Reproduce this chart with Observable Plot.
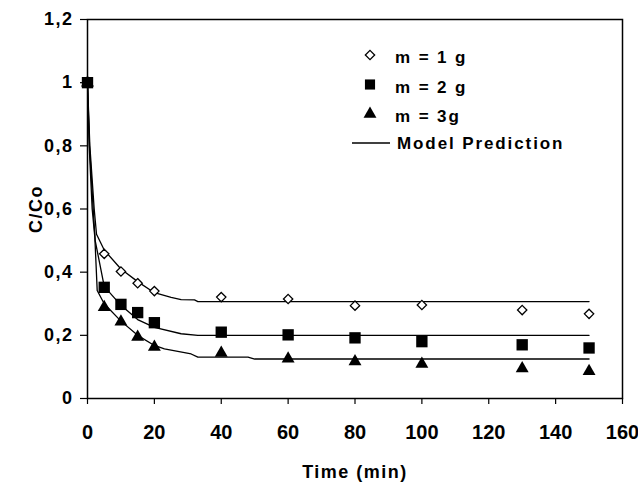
<!DOCTYPE html>
<html>
<head>
<meta charset="utf-8">
<script src="https://cdn.jsdelivr.net/npm/d3@7"></script>
<script src="https://cdn.jsdelivr.net/npm/@observablehq/plot@0.6"></script>
<style>
  html, body { margin: 0; padding: 0; background: #fff; }
  #wrap { position: relative; width: 638px; height: 484px; font-family: "Liberation Sans", Arial, sans-serif; }
  #legend { position: absolute; left: 0; top: 0; pointer-events: none; }
</style>
</head>
<body>
<div id="wrap"></div>
<script>
// Experimental data (time in min, C/Co)
const time = [0, 5, 10, 15, 20, 40, 60, 80, 100, 130, 150];
const m1 = [1, 0.458, 0.402, 0.365, 0.34, 0.321, 0.315, 0.294, 0.296, 0.28, 0.268];
const m2 = [1, 0.352, 0.298, 0.272, 0.24, 0.21, 0.2015, 0.192, 0.18, 0.17, 0.16];
const m3 = [1, 0.289, 0.243, 0.195, 0.163, 0.144, 0.126, 0.117, 0.109, 0.095, 0.086];

// Model prediction curves
const model1T = [0, 0.7, 2, 2.7, 5, 10, 15, 20, 25, 28, 32, 33, 150];
const model1V = [1, 0.8, 0.6, 0.52, 0.47, 0.41, 0.37, 0.335, 0.32, 0.313, 0.312, 0.307, 0.307];
const model2T = [0, 0.6, 1.7, 2.3, 5, 10, 15, 20, 28, 33, 150];
const model2V = [1, 0.8, 0.6, 0.5, 0.355, 0.295, 0.25, 0.225, 0.205, 0.2, 0.2];
const model3T = [0, 0.5, 1.4, 2.2, 2.9, 5, 10, 15, 20, 23, 31, 33, 48, 50, 150];
const model3V = [1, 0.8, 0.6, 0.51, 0.342, 0.3, 0.245, 0.2, 0.168, 0.157, 0.141, 0.131, 0.131, 0.125, 0.125];

const xTicks = [0, 20, 40, 60, 80, 100, 120, 140, 160];
const yTicks = [0, 0.2, 0.4, 0.6, 0.8, 1, 1.2];

const legendLabels = ["m = 1 g", "m = 2 g", "m = 3g", "Model Prediction"];

const pts = (vals) => time.map((t, i) => ({t, v: vals[i]}));
const curve = (ts, vs) => ts.map((t, i) => ({t, v: vs[i]}));

const fmt = d => String(Math.round(d * 10) / 10).replace(".", ",");

const font = "'Liberation Sans', Arial, sans-serif";

const chart = Plot.plot({
  width: 638,
  height: 484,
  marginLeft: 87,
  marginRight: 16,
  marginTop: 19,
  marginBottom: 86,
  style: {fontFamily: font, background: "#fff", color: "#000", overflow: "visible"},
  x: {domain: [0, 160], ticks: xTicks},
  y: {domain: [0, 1.2], ticks: yTicks},
  marks: [
    Plot.axisX({
      ticks: xTicks, tickSize: 6, tickPadding: 20, fontSize: 20, fontWeight: "bold",
      label: "Time (min)", labelAnchor: "center", labelArrow: "none", labelOffset: 79,
      stroke: "#000", strokeWidth: 1.2
    }),
    Plot.axisY({
      ticks: yTicks, tickSize: 7, tickPadding: 7, fontSize: 18, fontWeight: "bold",
      tickFormat: fmt, label: "C/Co", labelAnchor: "center", labelArrow: "none", labelOffset: 58,
      stroke: "#000", strokeWidth: 1.2
    }),
    Plot.frame({stroke: "#000", strokeWidth: 1.5}),
    Plot.line(curve(model1T, model1V), {x: "t", y: "v", stroke: "#000", strokeWidth: 1.3}),
    Plot.line(curve(model2T, model2V), {x: "t", y: "v", stroke: "#000", strokeWidth: 1.3}),
    Plot.line(curve(model3T, model3V), {x: "t", y: "v", stroke: "#000", strokeWidth: 1.3}),
    Plot.dot(pts(m1), {x: "t", y: "v", symbol: "diamond2", r: 4.2, fill: "#fff", stroke: "#000", strokeWidth: 1.3}),
    Plot.dot(pts(m3), {x: "t", y: "v", symbol: "triangle", r: 4.8, fill: "#000", stroke: "none"}),
    Plot.dot(pts(m2), {x: "t", y: "v", symbol: "square", r: 6.4, fill: "#000", stroke: "none"})
  ]
});

const wrap = document.getElementById("wrap");
wrap.appendChild(chart);

// Force text styling of axes
chart.querySelectorAll("text").forEach(t => {
  t.setAttribute("fill", "#000");
  t.style.fontWeight = "bold";
  t.style.fontFamily = font;
});
chart.querySelectorAll("g[aria-label='x-axis tick label'] text").forEach(t => {
  t.style.fontSize = "20px";
});
chart.querySelectorAll("g[aria-label='y-axis tick label'] text").forEach(t => {
  t.style.fontSize = "18px"; t.style.letterSpacing = "1.5px";
});
chart.querySelectorAll("g[aria-label='x-axis label'] text, g[aria-label='y-axis label'] text").forEach(t => {
  t.style.fontSize = "18px"; t.style.letterSpacing = "1.5px";
});

// Legend overlay
const leg = d3.select(wrap).append("svg")
  .attr("id", "legend").attr("width", 638).attr("height", 484);
const sym = [d3.symbolDiamond2, d3.symbolSquare, d3.symbolTriangle];
const sizes = [Math.PI * 4.2 * 4.2, Math.PI * 6.2 * 6.2 * 0.85, Math.PI * 4.8 * 4.8];
legendLabels.forEach((lab, i) => {
  const cy = 55 + i * 29.5;
  const g = leg.append("g");
  if (i < 3) {
    g.append("path")
      .attr("transform", `translate(370,${cy})`)
      .attr("d", d3.symbol(sym[i], sizes[i])())
      .attr("fill", i === 0 ? "#fff" : "#000")
      .attr("stroke", i === 0 ? "#000" : "none")
      .attr("stroke-width", 1.3);
    g.append("text").attr("x", 395).attr("y", cy + 8)
      .attr("font-family", font).attr("font-size", 17).attr("font-weight", "bold")
      .attr("letter-spacing", "1.9px").text(lab);
  } else {
    g.append("line").attr("x1", 352).attr("x2", 390).attr("y1", 143).attr("y2", 143)
      .attr("stroke", "#000").attr("stroke-width", 1.3);
    g.append("text").attr("x", 397).attr("y", 149)
      .attr("font-family", font).attr("font-size", 17).attr("font-weight", "bold")
      .attr("letter-spacing", "1.9px").text(lab);
  }
});
</script>
</body>
</html>
